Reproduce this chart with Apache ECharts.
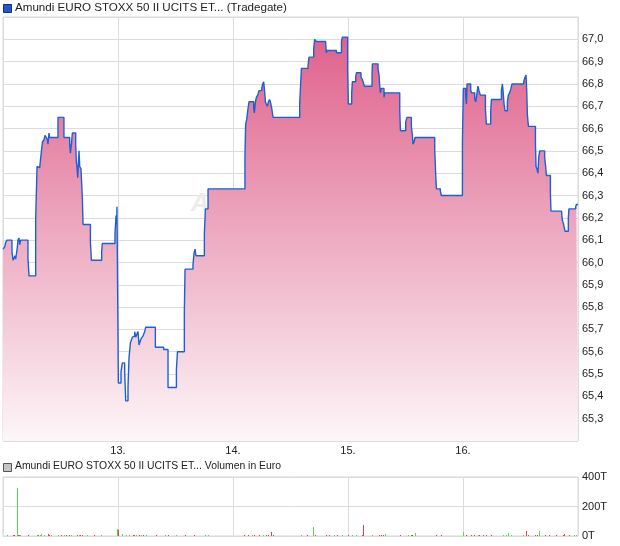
<!DOCTYPE html>
<html><head><meta charset="utf-8">
<script src="https://cdn.jsdelivr.net/npm/echarts@6/dist/echarts.min.js"></script>
<style>html,body{margin:0;padding:0;background:#fff}#c{width:620px;height:546px}</style>
</head><body><div id="c"></div><script>
// x values are in trading days from the start of the 12th (0 = 12., 1 = 13., ...)
const dayLabels = ['12.', '13.', '14.', '15.', '16.', '17.'];
const priceTitle = 'Amundi EURO STOXX 50 II UCITS ET... (Tradegate)';
const volumeTitle = 'Amundi EURO STOXX 50 II UCITS ET... Volumen in Euro';

const priceTimes = [
 0, 0.015, 0.023, 0.035, 0.078, 0.087, 0.096, 0.104, 0.110, 0.117,
 0.125, 0.130, 0.139, 0.145, 0.154, 0.217, 0.226, 0.284, 0.296, 0.304,
 0.319, 0.330, 0.343, 0.357, 0.365, 0.377, 0.386, 0.391, 0.400, 0.406,
 0.478, 0.530, 0.580, 0.586, 0.595, 0.603, 0.632, 0.638, 0.643, 0.650,
 0.661, 0.667, 0.678, 0.690, 0.696, 0.760, 0.769, 0.858, 0.864, 0.974,
 0.983, 0.989, 0.991, 0.997, 1.003, 1.026, 1.038, 1.058, 1.067, 1.087,
 1.096, 1.108, 1.125, 1.137, 1.145, 1.154, 1.165, 1.174, 1.183, 1.195,
 1.203, 1.217, 1.232, 1.241, 1.325, 1.397, 1.435, 1.508, 1.517, 1.577,
 1.583, 1.652, 1.661, 1.670, 1.678, 1.751, 1.760, 1.783, 2.104, 2.110,
 2.119, 2.128, 2.139, 2.180, 2.186, 2.195, 2.203, 2.215, 2.226, 2.250,
 2.258, 2.267, 2.276, 2.282, 2.290, 2.299, 2.308, 2.317, 2.325, 2.337,
 2.348, 2.580, 2.589, 2.595, 2.652, 2.661, 2.702, 2.710, 2.725, 2.806,
 2.812, 2.817, 2.899, 2.943, 2.951, 2.997, 3.003, 3.032, 3.038, 3.067,
 3.073, 3.113, 3.125, 3.137, 3.143, 3.209, 3.212, 3.261, 3.270, 3.276,
 3.282, 3.290, 3.313, 3.319, 3.450, 3.456, 3.502, 3.513, 3.551, 3.560,
 3.565, 3.574, 3.583, 3.754, 3.763, 3.769, 3.803, 3.812, 3.995, 4.003,
 4.023, 4.030, 4.035, 4.067, 4.076, 4.102, 4.111, 4.122, 4.130, 4.139,
 4.151, 4.195, 4.203, 4.241, 4.247, 4.334, 4.343, 4.348, 4.357, 4.365,
 4.386, 4.395, 4.406, 4.417, 4.426, 4.528, 4.539, 4.548, 4.554, 4.560,
 4.569, 4.630, 4.635, 4.643, 4.652, 4.658, 4.667, 4.710, 4.719, 4.725,
 4.760, 4.765, 4.858, 4.864, 4.875, 4.887, 4.916, 4.921,
 4.980, 4.986, 5.0
];
const priceValues = [
 66.06, 66.07, 66.09, 66.10, 66.05, 66.01, 66.02, 66.03, 66.015, 66.04,
 66.07, 66.10, 66.11, 66.08, 66.10, 66.02, 65.94, 66.19, 66.43, 66.425,
 66.42, 66.48, 66.54, 66.55, 66.57, 66.56, 66.55, 66.53, 66.58, 66.56,
 66.65, 66.56, 66.53, 66.49, 66.53, 66.58, 66.53, 66.45, 66.43, 66.38,
 66.50, 66.43, 66.42, 66.29, 66.17, 66.09, 66.01, 66.05, 66.085, 66.13,
 66.21, 66.17, 66.25, 65.86, 65.46, 65.51, 65.55, 65.51, 65.38, 65.44,
 65.575, 65.64, 65.665, 65.67, 65.69, 65.665, 65.68, 65.69, 65.63, 65.65,
 65.66, 65.67, 65.69, 65.71, 65.62, 65.61, 65.44, 65.52, 65.60, 65.78,
 65.97, 65.99, 66.04, 66.06, 66.03, 66.13, 66.24, 66.33, 66.47, 66.62,
 66.64, 66.68, 66.72, 66.69, 66.67, 66.72, 66.74, 66.75, 66.77, 66.78,
 66.80, 66.81, 66.76, 66.72, 66.71, 66.70, 66.72, 66.73, 66.72, 66.69,
 66.65, 66.71, 66.81, 66.87, 66.88, 66.92, 66.96, 67.00, 66.99, 66.98,
 66.94, 66.95, 66.94, 66.99, 67.01, 66.86, 66.71, 66.76, 66.81, 66.83,
 66.85, 66.83, 66.82, 66.80, 66.79, 66.84, 66.89, 66.87, 66.84, 66.79,
 66.76, 66.78, 66.74, 66.76, 66.68, 66.59, 66.63, 66.65, 66.61, 66.57,
 66.53, 66.54, 66.56, 66.51, 66.39, 66.33, 66.32, 66.30, 66.54, 66.78,
 66.75, 66.71, 66.80, 66.77, 66.76, 66.73, 66.72, 66.76, 66.79, 66.77,
 66.75, 66.69, 66.62, 66.68, 66.73, 66.77, 66.80, 66.77, 66.71, 66.68,
 66.72, 66.75, 66.76, 66.78, 66.80, 66.81, 66.83, 66.84, 66.77, 66.66,
 66.61, 66.53, 66.43, 66.42, 66.40, 66.47, 66.50, 66.47, 66.43, 66.39,
 66.31, 66.23, 66.22, 66.19, 66.17, 66.14, 66.20, 66.24,
 66.25, 66.26, 66.26
];

// volume in thousand euro (T); up = 1 green, 0 red
const volTimes = [
 0.035, 0.087, 0.102, 0.122, 0.131, 0.145, 0.154, 0.226, 0.296, 0.313,
 0.325, 0.339, 0.357, 0.392, 0.406, 0.426, 0.479, 0.508, 0.537, 0.551,
 0.580, 0.595, 0.644, 0.661, 0.673, 0.690, 0.739, 0.797, 0.855, 0.992,
 1.000, 1.035, 1.073, 1.102, 1.131, 1.145, 1.165, 1.183, 1.203, 1.218,
 1.247, 1.334, 1.412, 1.435, 1.508, 1.586, 1.667, 1.760, 1.783, 2.102,
 2.131, 2.168, 2.189, 2.232, 2.261, 2.290, 2.305, 2.334, 2.348, 2.595,
 2.652,
 2.702, 2.719, 2.812, 2.841, 2.884, 2.913, 2.951, 3.000, 3.038, 3.073,
 3.122, 3.139, 3.212, 3.276, 3.290, 3.310, 3.322, 3.455, 3.522, 3.551,
 3.565, 3.589, 3.768, 3.812, 4.000, 4.029, 4.073, 4.102, 4.131, 4.145,
 4.174, 4.203, 4.247, 4.348, 4.377, 4.392, 4.421, 4.523, 4.548, 4.571,
 4.629, 4.652, 4.667, 4.719, 4.754, 4.812, 4.870, 4.885, 4.928, 4.972,
 4.986
];
const volValues = [
 8, 6, 6, 325, 7, 9, 7, 9, 6, 6,
 7, 15, 7, 15, 7, 6, 6, 6, 6, 6,
 6, 6, 7, 9, 9, 6, 6, 6, 6, 48,
 41, 16, 7, 6, 6, 7, 9, 7, 6, 6,
 9, 6, 6, 6, 6, 6, 6, 9, 6, 6,
 6, 6, 6, 6, 6, 6, 9, 30, 7, 9,
 6,
 61, 6, 6, 6, 6, 6, 6, 6, 6, 6,
 9, 75, 6, 6, 6, 9, 14, 6, 6, 9,
 6, 20, 9, 6, 27, 6, 9, 6, 9, 6,
 6, 6, 6, 6, 6, 20, 10, 6, 34, 6,
 6, 10, 34, 6, 6, 6, 6, 14, 6, 6,
 6
];
const volUp = [
 1, 0, 0, 1, 0, 0, 1, 0, 1, 0,
 1, 1, 1, 0, 0, 1, 1, 0, 1, 0,
 0, 1, 0, 1, 0, 0, 1, 0, 1, 1,
 0, 1, 1, 1, 0, 0, 1, 0, 1, 0,
 1, 0, 1, 0, 1, 0, 0, 1, 1, 0,
 0, 1, 0, 0, 1, 0, 0, 0, 0, 1,
 0,
 1, 0, 0, 0, 1, 0, 1, 0, 1, 1,
 0, 0, 1, 0, 0, 0, 1, 0, 1, 0,
 0, 1, 0, 0, 1, 0, 0, 0, 1, 0,
 0, 0, 0, 1, 1, 1, 1, 1, 0, 0,
 0, 0, 1, 0, 0, 0, 0, 0, 0, 1,
 1
];

const FONT = 'Liberation Sans, Arial, sans-serif';
const UP_COLOR = '#4fdc4f';
const DOWN_COLOR = '#e2444e';
const chart = echarts.init(document.getElementById('c'), null, {renderer: 'canvas'});

const priceData = priceTimes.map((t, i) => [t, priceValues[i]]);
const volData = volTimes.map((t, i) => [t, volValues[i], volUp[i]]);

const dayFmt = v => (v >= 1 && v <= 4) ? dayLabels[Math.round(v)] : '';

chart.setOption({
  animation: false,
  backgroundColor: '#ffffff',
  grid: [
    {left: 3, right: 42, top: 17, height: 424, show: true, borderColor: '#d6d6d6', borderWidth: 1, backgroundColor: '#fff'},
    {left: 3, right: 42, top: 477, height: 59, show: true, borderColor: '#d6d6d6', borderWidth: 1, backgroundColor: '#fff'}
  ],
  xAxis: [
    {gridIndex: 0, type: 'value', min: 0, max: 5, interval: 1,
     axisLine: {show: false}, axisTick: {show: false},
     axisLabel: {formatter: dayFmt, color: '#222', fontSize: 11, fontFamily: FONT, margin: 4},
     splitLine: {show: true, lineStyle: {color: '#dcdcdc', width: 1}}},
    {gridIndex: 1, type: 'value', min: 0, max: 5, interval: 1,
     axisLine: {show: false}, axisTick: {show: false}, axisLabel: {show: false},
     splitLine: {show: true, lineStyle: {color: '#dcdcdc', width: 1}}}
  ],
  yAxis: [
    {gridIndex: 0, type: 'value', position: 'right', min: 65.2, max: 67.1, interval: 0.1,
     axisLine: {show: false}, axisTick: {show: false},
     axisLabel: {formatter: v => (v < 65.25 || v > 67.05) ? '' : v.toFixed(1).replace('.', ','),
                 color: '#222', fontSize: 11, fontFamily: FONT, margin: 4},
     splitLine: {show: true, lineStyle: {color: '#dcdcdc', width: 1}}},
    {gridIndex: 1, type: 'value', position: 'right', min: 0, max: 400, interval: 200,
     axisLine: {show: false}, axisTick: {show: false},
     axisLabel: {formatter: v => v + 'T', color: '#222', fontSize: 11, fontFamily: FONT, margin: 4},
     splitLine: {show: true, lineStyle: {color: '#dcdcdc', width: 1}}}
  ],
  graphic: [
    {type: 'text', left: 191, top: 192, z: 1, silent: true,
     style: {text: 'ARIVA', font: 'italic bold 25px ' + FONT, fill: '#eeebe8'}},
    {type: 'rect', left: 3, top: 4, z: 10, shape: {width: 8, height: 8},
     style: {fill: '#2258c8', stroke: '#102f80', lineWidth: 1}},
    {type: 'text', left: 15, top: 2, z: 10,
     style: {text: priceTitle, font: '11.6px ' + FONT, fill: '#222'}},
    {type: 'rect', left: 3, top: 463, z: 10, shape: {width: 8, height: 8},
     style: {fill: '#c4c4c4', stroke: '#555', lineWidth: 1}},
    {type: 'text', left: 15, top: 461.5, z: 10,
     style: {text: volumeTitle, font: '10.4px ' + FONT, fill: '#222'}}
  ],
  series: [
    {type: 'line', xAxisIndex: 0, yAxisIndex: 0, step: 'end', symbol: 'none', z: 2,
     data: priceData,
     lineStyle: {color: '#1f5fd6', width: 1.4},
     areaStyle: {opacity: 1, color: new echarts.graphic.LinearGradient(0, 17, 0, 441, [
       {offset: 0, color: '#de5a87'},
       {offset: 0.5, color: '#eda8bf'},
       {offset: 1, color: '#fdf6f8'}
     ], true)}},
    {type: 'custom', xAxisIndex: 1, yAxisIndex: 1, z: 2, data: volData,
     renderItem: function (params, api) {
       const top = api.coord([api.value(0), api.value(1)]);
       const base = api.coord([api.value(0), 0]);
       const x = Math.floor(top[0]);
       const yb = Math.round(base[1]);
       const yt = Math.min(yb - 1, Math.round(top[1]));
       return {type: 'rect', shape: {x: x, y: yt, width: 1, height: yb - yt},
               style: {fill: api.value(2) ? UP_COLOR : DOWN_COLOR}};
     }}
  ]
});
</script></body></html>
